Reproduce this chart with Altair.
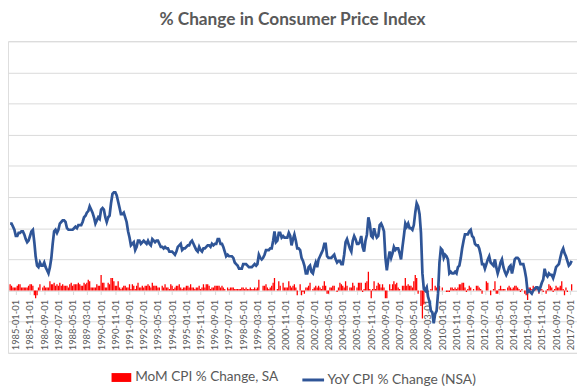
import altair as alt
import pandas as pd

START_MONTH = "1984-09-01"

yoy = [
    4.3, 4.3, 4.1, 3.9,  # 1984 Sep-Dec
    3.5, 3.5, 3.7, 3.7, 3.8, 3.8, 3.6, 3.3, 3.1, 3.2, 3.5, 3.8,  # 1985
    3.9, 3.1, 2.2, 1.6, 1.5, 1.8, 1.6, 1.6, 1.8, 1.5, 1.3, 1.1,  # 1986
    1.5, 2.1, 3.0, 3.8, 3.9, 3.7, 3.9, 4.3, 4.4, 4.5, 4.5, 4.4,  # 1987
    4.0, 3.9, 3.9, 3.9, 3.9, 4.0, 4.1, 4.0, 4.2, 4.2, 4.2, 4.4,  # 1988
    4.7, 4.8, 5.0, 5.1, 5.4, 5.2, 5.0, 4.7, 4.3, 4.5, 4.7, 4.6,  # 1989
    5.2, 5.3, 5.2, 4.7, 4.4, 4.7, 4.8, 5.6, 6.2, 6.3, 6.3, 6.1,  # 1990
    5.7, 5.3, 4.9, 4.9, 5.0, 4.7, 4.4, 3.8, 3.4, 2.9, 3.0, 3.1,  # 1991
    2.6, 2.8, 3.2, 3.2, 3.0, 3.1, 3.2, 3.1, 3.0, 3.2, 3.0, 2.9,  # 1992
    3.3, 3.2, 3.1, 3.2, 3.2, 3.0, 2.8, 2.8, 2.7, 2.8, 2.7, 2.7,  # 1993
    2.5, 2.5, 2.5, 2.4, 2.3, 2.5, 2.8, 2.9, 3.0, 2.6, 2.7, 2.7,  # 1994
    2.8, 2.9, 2.9, 3.1, 3.2, 3.0, 2.8, 2.6, 2.5, 2.8, 2.6, 2.5,  # 1995
    2.7, 2.7, 2.8, 2.9, 2.9, 2.8, 3.0, 2.9, 3.0, 3.0, 3.3, 3.3,  # 1996
    3.0, 3.0, 2.8, 2.5, 2.2, 2.3, 2.2, 2.2, 2.2, 2.1, 1.8, 1.7,  # 1997
    1.6, 1.4, 1.4, 1.4, 1.7, 1.7, 1.7, 1.6, 1.5, 1.5, 1.5, 1.6,  # 1998
    1.7, 1.6, 1.7, 2.3, 2.1, 2.0, 2.1, 2.3, 2.6, 2.6, 2.6, 2.7,  # 1999
    2.7, 3.2, 3.8, 3.1, 3.2, 3.7, 3.7, 3.4, 3.5, 3.4, 3.4, 3.4,  # 2000
    3.7, 3.5, 2.9, 3.3, 3.6, 3.2, 2.7, 2.7, 2.6, 2.1, 1.9, 1.6,  # 2001
    1.1, 1.1, 1.5, 1.6, 1.2, 1.1, 1.5, 1.8, 1.5, 2.0, 2.2, 2.4,  # 2002
    2.6, 3.0, 3.0, 2.2, 2.1, 2.1, 2.1, 2.2, 2.3, 2.0, 1.8, 1.9,  # 2003
    1.9, 1.7, 1.7, 2.3, 3.1, 3.3, 3.0, 2.7, 2.5, 3.2, 3.5, 3.3,  # 2004
    3.0, 3.0, 3.1, 3.5, 2.8, 2.5, 3.2, 3.6, 4.7, 4.3, 3.5, 3.4,  # 2005
    4.0, 3.6, 3.4, 3.5, 4.2, 4.3, 4.1, 3.8, 2.1, 1.3, 2.0, 2.5,  # 2006
    2.1, 2.4, 2.8, 2.6, 2.7, 2.7, 2.4, 2.0, 2.8, 3.5, 4.3, 4.1,  # 2007
    4.3, 4.0, 4.0, 3.9, 4.2, 5.0, 5.6, 5.4, 4.9, 3.7, 1.1, 0.1,  # 2008
    0.0, 0.2, -0.4, -0.7, -1.3, -1.4, -2.1, -1.5, -1.3, -0.2, 1.8, 2.7,  # 2009
    2.6, 2.1, 2.3, 2.2, 2.0, 1.1, 1.2, 1.1, 1.1, 1.2, 1.1, 1.5,  # 2010
    1.6, 2.1, 2.7, 3.2, 3.6, 3.6, 3.6, 3.8, 3.9, 3.5, 3.4, 3.0,  # 2011
    2.9, 2.9, 2.7, 2.3, 1.7, 1.7, 1.4, 1.7, 2.0, 2.2, 1.8, 1.7,  # 2012
    1.6, 2.0, 1.5, 1.1, 1.4, 1.8, 2.0, 1.5, 1.2, 1.0, 1.2, 1.5,  # 2013
    1.6, 1.1, 1.5, 2.0, 2.1, 2.1, 2.0, 1.7, 1.7, 1.7, 1.3, 0.8,  # 2014
    -0.1, 0.0, -0.1, -0.2, 0.0, 0.1, 0.2, 0.2, 0.0, 0.2, 0.5, 0.7,  # 2015
    1.4, 1.0, 0.9, 1.1, 1.0, 1.0, 0.8, 1.1, 1.5, 1.6, 1.7, 2.1,  # 2016
    2.5, 2.7, 2.4, 2.2, 1.9, 1.6, 1.7, 1.9,  # 2017 Jan-Aug
]

mom = [
    0.4, 0.3, 0.2, 0.2,  # 1984 Sep-Dec
    0.2, 0.3, 0.4, 0.4, 0.2, 0.2, 0.2, 0.2, 0.2, 0.3, 0.4, 0.4,  # 1985
    0.3, -0.3, -0.5, -0.3, 0.2, 0.4, 0.0, 0.2, 0.3, 0.2, 0.2, 0.2,  # 1986
    0.6, 0.4, 0.4, 0.5, 0.3, 0.4, 0.3, 0.5, 0.3, 0.4, 0.3, 0.3,  # 1987
    0.3, 0.2, 0.4, 0.5, 0.3, 0.4, 0.4, 0.4, 0.5, 0.4, 0.3, 0.3,  # 1988
    0.5, 0.4, 0.5, 0.7, 0.6, 0.2, 0.2, 0.2, 0.2, 0.4, 0.3, 0.3,  # 1989
    1.0, 0.5, 0.5, 0.2, 0.2, 0.5, 0.4, 0.8, 0.8, 0.6, 0.3, 0.3,  # 1990
    0.6, 0.2, 0.1, 0.2, 0.3, 0.3, 0.2, 0.2, 0.4, 0.1, 0.4, 0.3,  # 1991
    0.1, 0.3, 0.5, 0.2, 0.2, 0.3, 0.2, 0.3, 0.3, 0.4, 0.3, 0.2,  # 1992
    0.5, 0.3, 0.3, 0.3, 0.2, 0.2, 0.0, 0.3, 0.2, 0.4, 0.2, 0.2,  # 1993
    0.1, 0.4, 0.3, 0.1, 0.2, 0.3, 0.3, 0.4, 0.2, 0.1, 0.2, 0.2,  # 1994
    0.3, 0.3, 0.2, 0.4, 0.2, 0.2, 0.1, 0.2, 0.2, 0.3, 0.1, 0.2,  # 1995
    0.4, 0.2, 0.4, 0.4, 0.3, 0.1, 0.2, 0.2, 0.3, 0.3, 0.3, 0.3,  # 1996
    0.2, 0.3, 0.2, 0.1, 0.0, 0.2, 0.1, 0.2, 0.2, 0.2, 0.1, 0.1,  # 1997
    0.1, 0.1, 0.1, 0.2, 0.2, 0.1, 0.2, 0.1, 0.1, 0.2, 0.1, 0.1,  # 1998
    0.2, 0.1, 0.2, 0.7, 0.0, 0.0, 0.3, 0.3, 0.4, 0.2, 0.1, 0.2,  # 1999
    0.3, 0.5, 0.8, 0.0, 0.1, 0.6, 0.3, 0.0, 0.5, 0.2, 0.2, 0.2,  # 2000
    0.6, 0.3, 0.2, 0.3, 0.4, 0.2, -0.3, 0.0, 0.4, -0.3, -0.1, -0.2,  # 2001
    0.2, 0.2, 0.3, 0.5, 0.0, 0.1, 0.2, 0.3, 0.2, 0.3, 0.2, 0.1,  # 2002
    0.3, 0.6, 0.3, -0.2, -0.2, 0.2, 0.2, 0.3, 0.3, 0.0, -0.1, 0.2,  # 2003
    0.5, 0.4, 0.3, 0.2, 0.6, 0.3, 0.0, 0.2, 0.2, 0.5, 0.3, 0.0,  # 2004
    0.2, 0.5, 0.5, 0.5, -0.1, 0.1, 0.5, 0.6, 1.2, 0.1, -0.5, 0.1,  # 2005
    0.6, 0.1, 0.3, 0.5, 0.4, 0.2, 0.4, 0.2, -0.5, -0.5, 0.0, 0.4,  # 2006
    0.1, 0.4, 0.6, 0.4, 0.5, 0.2, 0.1, 0.0, 0.3, 0.3, 0.8, 0.3,  # 2007
    0.4, 0.3, 0.3, 0.2, 0.6, 1.0, 0.8, -0.2, 0.0, -1.0, -1.8, -0.9,  # 2008
    0.2, 0.3, -0.1, 0.0, 0.1, 0.8, 0.0, 0.3, 0.2, 0.3, 0.3, 0.0,  # 2009
    0.2, 0.0, 0.0, -0.1, -0.1, -0.1, 0.2, 0.2, 0.1, 0.2, 0.1, 0.2,  # 2010
    0.4, 0.4, 0.5, 0.5, 0.2, -0.1, 0.1, 0.3, 0.2, 0.0, 0.1, 0.0,  # 2011
    0.3, 0.3, 0.2, 0.1, -0.2, 0.0, 0.0, 0.6, 0.5, 0.0, -0.3, 0.0,  # 2012
    0.1, 0.6, -0.2, -0.2, 0.1, 0.3, 0.1, 0.1, 0.1, 0.0, 0.2, 0.3,  # 2013
    0.2, 0.1, 0.2, 0.3, 0.3, 0.2, 0.1, -0.1, 0.1, 0.0, -0.2, -0.3,  # 2014
    -0.6, 0.2, 0.2, 0.1, 0.3, 0.2, 0.1, 0.0, -0.2, 0.2, 0.1, -0.1,  # 2015
    0.0, -0.2, 0.1, 0.4, 0.3, 0.2, -0.1, 0.1, 0.3, 0.2, 0.2, 0.3,  # 2016
    0.6, 0.1, -0.3, 0.2, -0.1, 0.0, 0.0, 0.4,  # 2017 Jan-Aug
]

tick_labels = [
    "1985-01-01", "1985-11-01", "1986-09-01", "1987-07-01", "1988-05-01",
    "1989-03-01", "1990-01-01", "1990-11-01", "1991-09-01", "1992-07-01",
    "1993-05-01", "1994-03-01", "1995-01-01", "1995-11-01", "1996-09-01",
    "1997-07-01", "1998-05-01", "1999-03-01", "2000-01-01", "2000-11-01",
    "2001-09-01", "2002-07-01", "2003-05-01", "2004-03-01", "2005-01-01",
    "2005-11-01", "2006-09-01", "2007-07-01", "2008-05-01", "2009-03-01",
    "2010-01-01", "2010-11-01", "2011-09-01", "2012-07-01", "2013-05-01",
    "2014-03-01", "2015-01-01", "2015-11-01", "2016-09-01", "2017-07-01",
]

y_grid = [-4, -2, 0, 2, 4, 6, 8, 10, 12, 14, 16]

MOM_NAME = "MoM CPI % Change, SA"
YOY_NAME = "YoY CPI % Change (NSA)"

months = pd.date_range(START_MONTH, periods=len(yoy), freq="MS")
df = pd.DataFrame({
    "date": months.strftime("%Y-%m-%d"),
    "yoy": yoy,
    "mom": mom,
    "s_mom": MOM_NAME,
    "s_yoy": YOY_NAME,
})


def dt(s):
    return alt.DateTime(year=int(s[:4]), month=int(s[5:7]), date=int(s[8:10]), utc=True)


FONT = "Lato"
GRAY = "#595959"

x_enc = alt.X(
    "date:T",
    scale=alt.Scale(type="utc", domain=[dt("1984-10-31"), dt("2017-08-10")]),
    axis=alt.Axis(
        values=[dt(s) for s in tick_labels],
        format="%Y-%m-%d",
        labelAngle=-90,
        labelFont=FONT,
        labelFontSize=9.5,
        labelColor=GRAY,
        labelPadding=5,
        labelOverlap=False,
        labelBound=False,
        labelFlush=False,
        ticks=True,
        tickSize=4,
        tickColor="#D9D9D9",
        domain=False,
        grid=False,
        offset=-63.2,
        title=None,
    ),
)

y_scale = alt.Scale(domain=[-4, 16], nice=False, zero=False)
y_axis = alt.Axis(
    values=y_grid,
    labels=False,
    ticks=False,
    domain=False,
    grid=True,
    gridColor="#D9D9D9",
    gridWidth=1,
    title=None,
)

base = alt.Chart(df)

bars = base.mark_bar(size=1.3, clip=True).encode(
    x=x_enc,
    y=alt.Y("mom:Q", scale=y_scale, axis=y_axis),
    fill=alt.Fill(
        "s_mom:N",
        scale=alt.Scale(domain=[MOM_NAME], range=["#FF0000"]),
        legend=alt.Legend(
            title=None,
            orient="none",
            legendX=105,
            legendY=331,
            symbolType="M-1,-0.45H1V0.45H-1Z",
            symbolSize=400,
            symbolStrokeWidth=0,
            labelFont=FONT,
            labelFontSize=13.8,
            labelColor=GRAY,
            labelLimit=300,
            labelOffset=4,
        ),
    ),
)

line = base.mark_line(strokeWidth=2.75, clip=True).encode(
    x=x_enc,
    y=alt.Y("yoy:Q", scale=y_scale, axis=y_axis),
    stroke=alt.Stroke(
        "s_yoy:N",
        scale=alt.Scale(domain=[YOY_NAME], range=["#2F5597"]),
        legend=alt.Legend(
            title=None,
            orient="none",
            legendX=297,
            legendY=331,
            symbolType="stroke",
            symbolSize=484,
            symbolStrokeWidth=3,
            labelFont=FONT,
            labelFontSize=14,
            labelColor=GRAY,
            labelLimit=300,
            labelOffset=2,
        ),
    ),
)

chart = (
    alt.layer(bars, line)
    .properties(
        width=577,
        height=316,
        padding={"left": 0, "top": 31, "right": 0, "bottom": 38},
        autosize=alt.AutoSizeParams(type="none"),
        title=alt.TitleParams(
            "% Change in Consumer Price Index",
            font=FONT,
            fontSize=17.5,
            fontWeight="bold",
            color=GRAY,
            anchor="middle",
            offset=13,
        ),
    )
    .configure_view(stroke=None)
    .configure_axis(domain=False)
    .configure(font=FONT)
)

chart.save("out.html", embed_options={"renderer": "svg", "actions": False})
